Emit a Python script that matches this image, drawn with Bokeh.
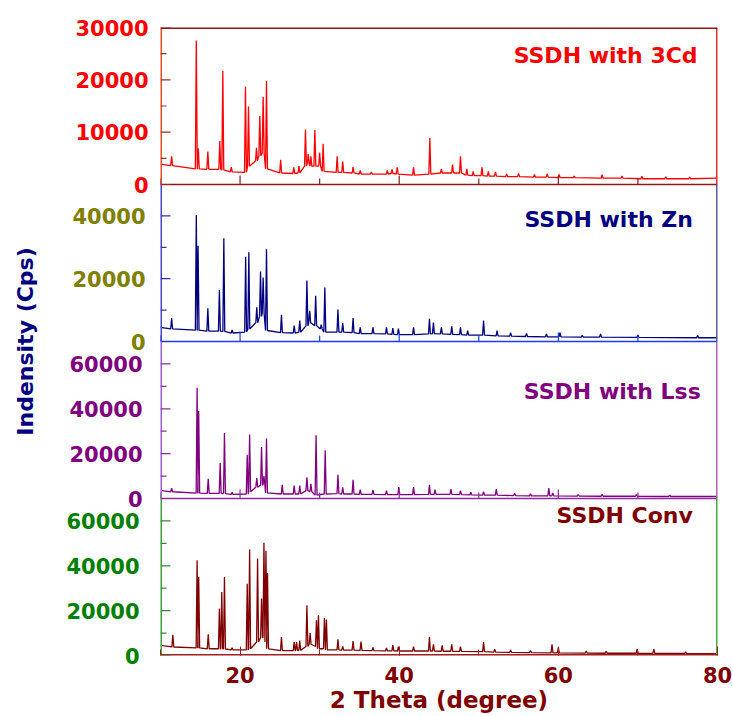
from bokeh.plotting import figure
from bokeh.models import Range1d, SingleIntervalTicker, FixedTicker, Label, LinearAxis
from bokeh.embed import file_html
from bokeh.resources import INLINE

# ---------------- data ----------------
x_ticks = [20, 40, 60, 80]

# SSDH with 3Cd
cd_start, cd_end = 3900, 1200
cd_pos = [11.4, 14.5, 14.75, 15.95, 17.45, 17.83, 18.9, 20.68, 21.06, 22.06, 22.48, 22.9, 23.32,
          25.1, 26.75, 27.4, 28.22, 28.56, 28.9, 29.4, 30.0, 30.44, 32.2, 32.9, 34.2, 35.1, 36.5,
          38.5, 39.1, 39.75, 41.8, 43.85, 45.3, 46.7, 47.7, 48.5, 49.3, 50.4, 51.2, 52.1, 53.5,
          55.0, 57.0, 58.6, 60.1, 62.0, 65.5, 68.0, 70.5, 73.5, 76.5]
cd_peak = [5400, 27500, 6900, 6300, 8300, 21700, 3300, 18700, 14900, 7000, 13100, 16700, 19800,
           4700, 3300, 3500, 10500, 5800, 5400, 10400, 6100, 7800, 5400, 4400, 3300, 2700, 2400,
           2700, 2900, 3300, 3300, 8900, 3000, 3800, 5400, 3000, 2500, 3300, 2500, 2400, 2000,
           2100, 1900, 2000, 1900, 1600, 1900, 1600, 1600, 1500, 1400]
cd_base = [3600, 3000, 3000, 2900, 2900, 2800, 2400, 2300, 3500, 4500, 5500, 6000, 3000,
           2200, 2100, 2200, 3500, 4000, 3500, 3500, 3500, 2500, 2300, 2300, 2200, 2000, 2000,
           2000, 2100, 2000, 1800, 2000, 2200, 2200, 2200, 1800, 1700, 1700, 1600, 1600, 1500,
           1500, 1400, 1400, 1300, 1300, 1200, 1200, 1100, 1100, 1100]

# SSDH with Zn
zn_start, zn_end = 4500, 1200
zn_pos = [11.4, 14.5, 14.72, 15.95, 17.4, 17.96, 19.0, 20.7, 21.1, 22.1, 22.57, 22.9, 23.32,
          25.2, 26.8, 27.5, 28.4, 28.75, 29.5, 30.2, 30.65, 32.3, 32.9, 34.2, 35.1, 36.7, 38.4,
          39.2, 39.9, 41.8, 43.8, 44.3, 45.3, 46.6, 47.7, 48.6, 50.6, 52.3, 54.0, 56.0, 58.5,
          60.2, 63.0, 65.3, 70.0, 77.5]
zn_peak = [7500, 40300, 30500, 10600, 16400, 32900, 3700, 27000, 28400, 10900, 22300, 20400, 29400,
           8500, 5100, 6700, 19400, 9800, 14600, 5400, 17200, 10200, 5900, 7500, 4500, 4500, 4500,
           4300, 4100, 4500, 7200, 6000, 4500, 4800, 4500, 3500, 6700, 3500, 2800, 2600, 2400,
           2800, 2000, 2400, 2100, 2000]
zn_base = [4000, 3600, 3600, 3300, 3300, 3200, 2700, 3000, 4000, 6000, 8000, 9000, 3500,
           2800, 2700, 3000, 5000, 6000, 5000, 4000, 3000, 3000, 3000, 2800, 2500, 2500, 2400,
           2300, 2200, 2200, 2400, 2500, 2400, 2300, 2200, 2000, 2000, 1800, 1700, 1600, 1500,
           1500, 1400, 1400, 1300, 1200]

# SSDH with Lss
lss_start, lss_end = 3600, 900
lss_pos = [11.4, 14.6, 14.8, 16.0, 17.5, 18.04, 19.0, 20.9, 21.2, 22.1, 22.7, 23.0, 23.32,
           25.3, 26.8, 27.5, 28.4, 28.9, 29.55, 30.7, 32.3, 32.9, 34.2, 35.1, 36.7, 38.4, 39.95,
           41.8, 43.8, 44.5, 46.5, 47.7, 49.0, 50.6, 52.2, 54.5, 56.5, 58.8, 59.3, 62.5, 65.5,
           69.8, 74.0]
lss_peak = [4600, 49400, 39000, 8800, 15800, 29200, 2800, 19500, 28500, 9100, 23000, 10000, 26700,
            6100, 5800, 5800, 9400, 6500, 28200, 21500, 10600, 5000, 8300, 4000, 3800, 3500, 5100,
            5100, 6100, 4000, 4200, 3500, 2800, 3000, 4200, 2300, 2100, 4600, 2500, 1800, 1900,
            1800, 1500]
lss_base = [3000, 2400, 2400, 2300, 2300, 2200, 1800, 2000, 3000, 5000, 6000, 6000, 2500,
            2000, 2000, 2000, 3500, 3000, 1500, 2000, 2200, 2000, 2000, 1800, 1800, 1700, 1700,
            1700, 1800, 1800, 1800, 1700, 1600, 1500, 1500, 1300, 1200, 1200, 1200, 1100, 1000,
            1000, 900]

# SSDH Conv
conv_start, conv_end = 4500, 800
conv_pos = [11.55, 14.6, 14.8, 16.0, 17.4, 17.7, 18.04, 19.0, 20.9, 21.2, 22.2, 22.7, 23.0, 23.25,
            23.45, 25.2, 26.8, 27.1, 27.5, 28.4, 28.8, 29.6, 29.85, 30.6, 30.85, 32.3, 32.9, 34.2,
            35.2, 36.7, 38.4, 39.2, 39.9, 41.8, 43.8, 44.3, 45.4, 46.6, 47.7, 50.6, 52.0, 54.0,
            56.5, 59.2, 60.0, 63.5, 66.0, 69.9, 72.0, 76.0]
conv_peak = [9200, 42500, 35000, 9400, 21000, 28300, 35000, 3500, 32000, 47300, 43300, 25400, 50300, 46700,
             36800, 8200, 6000, 6000, 6700, 22400, 10000, 15700, 17900, 16700, 16000, 7200, 4000, 6400,
             6200, 3600, 3400, 4600, 4000, 4000, 8200, 5000, 4500, 5000, 4000, 6000, 2800, 2500,
             2200, 5000, 3500, 2000, 1900, 3000, 2800, 1600]
conv_base = [3800, 3400, 3400, 3000, 3000, 3000, 2900, 2500, 2500, 3000, 6000, 8000, 8000, 6000,
             3000, 2200, 2200, 2300, 2300, 4000, 5000, 4000, 3000, 3000, 2500, 2500, 2400, 2400,
             2300, 2200, 2100, 2100, 2000, 2000, 2000, 2000, 1900, 1900, 1800, 1700, 1500, 1400,
             1300, 1200, 1200, 1100, 1000, 1000, 900, 900]

# ---------------- styling ----------------
FONT = "DejaVu Sans"
HALF_W = 0.12          # half width of a drawn peak (degrees)
X0, X1 = 10, 80
STANDOFF = 12
FIRST_AXIS_W = 85      # width taken by the innermost y axis (tick labels + standoff)


def trace(start, pos, peak, base, end):
    xs, ys = [X0], [start]
    for p_, h, b in zip(pos, peak, base):
        xs += [p_ - HALF_W, p_, p_ + HALF_W]
        ys += [b, h, b]
    xs.append(X1)
    ys.append(end)
    return xs, ys


panels = [
    dict(name="default", data=(cd_start, cd_pos, cd_peak, cd_base, cd_end), ymax=30000, yint=10000,
         tick_color="#FF0000", line_color="#FF0000", left_col="#E8502A", tick_line="#A0281A",
         bottom_col="#8B1A1A", right_col="#E03030", text="SSDH with 3Cd", tx=77.5, ty=24600),
    dict(name="zn", data=(zn_start, zn_pos, zn_peak, zn_base, zn_end), ymax=50000, yint=20000,
         tick_color="#808000", line_color="#000080", left_col="#4848C8", tick_line="#3030B0",
         bottom_col="#1A3CFF", right_col="#5A5AA0", text="SSDH with Zn", tx=76.9, ty=38700),
    dict(name="lss", data=(lss_start, lss_pos, lss_peak, lss_base, lss_end), ymax=70000, yint=20000,
         tick_color="#800080", line_color="#800080", left_col="#A060D0", tick_line="#8A2A9A",
         bottom_col="#902AA0", right_col="#B060B0", text="SSDH with Lss", tx=77.9, ty=47900),
    dict(name="conv", data=(conv_start, conv_pos, conv_peak, conv_base, conv_end), ymax=70000, yint=20000,
         tick_color="#008000", line_color="#800000", left_col="#40A040", tick_line="#2E8B2E",
         bottom_col="#A02020", right_col="#40B040", text="SSDH Conv", tx=76.9, ty=62600),
]
n = len(panels)

# each panel gets its own y range, stacked in equal bands of one frame
ranges = [Range1d(-s["ymax"] * (n - 1 - k), s["ymax"] * (k + 1)) for k, s in enumerate(panels)]

p = figure(output_backend="svg", toolbar_location=None,
           frame_width=557, frame_height=628,
           min_border_left=160, min_border_right=16, min_border_top=27, min_border_bottom=58,
           x_range=Range1d(X0, X1), y_range=ranges[0], y_axis_location=None)
p.extra_y_ranges = {s["name"]: r for s, r in zip(panels[1:], ranges[1:])}
p.background_fill_color = "white"
p.border_fill_color = "white"
p.outline_line_color = None
p.xgrid.visible = False
p.ygrid.visible = False

x_major = [t for t in x_ticks if t < X1]
x_minor = [t - 10 for t in x_ticks]

for k, s in enumerate(panels):
    nm = s["name"]
    ymax, yint = s["ymax"], s["yint"]
    xs, ys = trace(*s["data"])
    p.line(xs, ys, line_color=s["line_color"], line_width=1.3, y_range_name=nm)

    # band edges
    p.segment(x0=[X1], y0=[0], x1=[X1], y1=[ymax], line_color=s["right_col"],
              line_width=3, y_range_name=nm)
    p.segment(x0=[X0], y0=[0], x1=[X0], y1=[ymax], line_color=s["left_col"],
              line_width=3, y_range_name=nm)
    p.segment(x0=[X0], y0=[0], x1=[X1], y1=[0], line_color=s["bottom_col"],
              line_width=3 if k == n - 1 else 1.6, y_range_name=nm)
    if k == 0:
        p.segment(x0=[X0], y0=[ymax], x1=[X1], y1=[ymax], line_color=s["bottom_col"],
                  line_width=3, y_range_name=nm)

    # inward ticks of the band
    y_major = list(range(0, ymax + 1, yint))
    y_minor = [v + yint // 2 for v in y_major if v + yint // 2 < ymax]
    p.ray(x=[X0] * len(y_major), y=y_major, length=10, length_units="screen", angle=0,
          line_color=s["tick_line"], line_width=1.2, y_range_name=nm)
    p.ray(x=[X0] * len(y_minor), y=y_minor, length=6, length_units="screen", angle=0,
          line_color=s["tick_line"], line_width=1.2, y_range_name=nm)
    if k < n - 1:
        p.ray(x=x_major, y=[0] * len(x_major), length=9, length_units="screen", angle=1.5707963,
              line_color=s["bottom_col"], line_width=1.2, y_range_name=nm)
        p.ray(x=x_minor, y=[0] * len(x_minor), length=6, length_units="screen", angle=1.5707963,
              line_color=s["bottom_col"], line_width=1.2, y_range_name=nm)

    # tick labels of the band (all axes share one column of labels)
    ya = LinearAxis(y_range_name=nm, bounds=(0, ymax),
                    ticker=SingleIntervalTicker(interval=yint, num_minor_ticks=0))
    ya.axis_line_color = None
    ya.major_tick_line_color = None
    ya.minor_tick_line_color = None
    ya.major_tick_in = 0
    ya.major_tick_out = 0
    ya.minor_tick_in = 0
    ya.minor_tick_out = 0
    ya.major_label_standoff = STANDOFF if k == 0 else STANDOFF - FIRST_AXIS_W
    ya.major_label_text_font = FONT
    ya.major_label_text_font_style = "bold"
    ya.major_label_text_font_size = "21px"
    ya.major_label_text_color = s["tick_color"]
    p.add_layout(ya, "left")

    p.add_layout(Label(x=s["tx"], y=s["ty"], y_range_name=nm, text=s["text"],
                       text_align="right", text_baseline="middle",
                       text_font=FONT, text_font_style="bold",
                       text_font_size="22px", text_color=s["line_color"]))

# outer axis that only carries the y title
ta = LinearAxis(bounds=(-84800, 29800), ticker=FixedTicker(ticks=[]))
ta.axis_line_color = None
ta.major_tick_in = 0
ta.major_tick_out = 0
ta.minor_tick_in = 0
ta.minor_tick_out = 0
ta.major_label_standoff = 0
ta.axis_label = "Indensity (Cps)"
ta.axis_label_standoff = 26
ta.axis_label_text_font = FONT
ta.axis_label_text_font_style = "bold"
ta.axis_label_text_font_size = "22px"
ta.axis_label_text_color = "#000080"
p.add_layout(ta, "left")

xa = p.xaxis[0]
xa.ticker = SingleIntervalTicker(interval=20, num_minor_ticks=2)
xa.axis_line_color = None
xa.major_tick_line_color = "#A02020"
xa.minor_tick_line_color = "#A02020"
xa.major_tick_in = 9
xa.major_tick_out = 0
xa.minor_tick_in = 6
xa.minor_tick_out = 0
xa.major_label_standoff = 11
xa.major_label_text_font = FONT
xa.major_label_text_font_style = "bold"
xa.major_label_text_font_size = "21px"
xa.major_label_text_color = "#800000"
xa.axis_label = "2 Theta (degree)"
xa.axis_label_standoff = 1
xa.axis_label_text_font = FONT
xa.axis_label_text_font_style = "bold"
xa.axis_label_text_font_size = "23px"
xa.axis_label_text_color = "#800000"

open("out.html", "w").write(file_html(p, INLINE))
